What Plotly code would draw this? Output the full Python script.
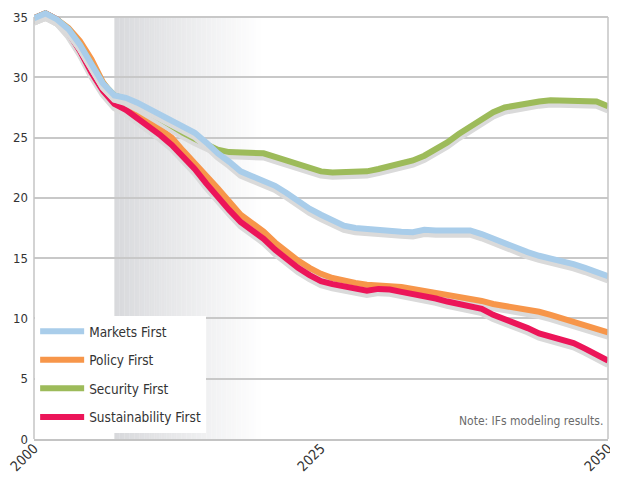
import plotly.graph_objects as go

years = list(range(2000, 2051))

markets_first = [34.9, 35.3, 34.8, 34.0, 32.7, 31.0, 29.5, 28.5, 28.3, 27.9,
                 27.4, 26.9, 26.4, 26.0, 25.4, 24.6, 23.7, 23.0, 22.2, 21.8,
                 21.4, 21.0, 20.4, 19.7, 19.1, 18.6, 18.1, 17.7, 17.5, 17.4,
                 17.3, 17.25, 17.2, 17.15, 17.35, 17.3, 17.3, 17.3, 17.3, 17.0,
                 16.6, 16.3, 15.9, 15.5, 15.2, 15.0, 14.7, 14.5, 14.2, 13.9,
                 13.5]

policy_first = [34.9, 35.3, 34.8, 34.1, 33.0, 31.5, 29.6, 28.3, 27.8, 27.0,
                26.3, 25.7, 25.0, 23.9, 22.9, 21.9, 20.8, 19.7, 18.6, 17.9,
                17.2, 16.3, 15.5, 14.8, 14.2, 13.7, 13.35, 13.1, 12.95, 12.8,
                12.75, 12.7, 12.6, 12.45, 12.3, 12.15, 12.0, 11.85, 11.65, 11.45,
                11.2, 11.05, 10.85, 10.7, 10.55, 10.3, 10.0, 9.65, 9.35, 9.1,
                8.85]

security_first = [34.9, 35.3, 34.8, 34.0, 32.7, 31.0, 29.5, 28.5, 28.2, 27.7,
                  27.1, 26.5, 25.9, 25.4, 24.9, 24.4, 24.0, 23.8, 23.8, 23.8,
                  23.7, 23.4, 23.1, 22.8, 22.5, 22.2, 22.1, 22.1, 22.1, 22.2,
                  22.4, 22.6, 22.8, 23.1, 23.5, 24.0, 24.6, 25.3, 25.9, 26.5,
                  27.1, 27.5, 27.7, 27.85, 28.0, 28.1, 28.1, 28.1, 28.05, 28.0,
                  27.6]

sustainability_first = [34.9, 35.3, 34.8, 33.7, 32.2, 30.4, 28.9, 27.8, 27.3, 26.6,
                        26.0, 25.2, 24.4, 23.4, 22.4, 21.2, 20.0, 19.0, 18.0, 17.3,
                        16.6, 15.7, 14.9, 14.2, 13.6, 13.1, 12.85, 12.7, 12.5, 12.3,
                        12.45, 12.4, 12.2, 12.05, 11.9, 11.65, 11.4, 11.2, 11.0, 10.8,
                        10.3, 9.95, 9.6, 9.2, 8.75, 8.45, 8.2, 7.95, 7.5, 7.0,
                        6.5]

x_tick_vals = [2000, 2025, 2050]
y_tick_vals = [0, 5, 10, 15, 20, 25, 30, 35]
note_text = "Note: IFs modeling results."

SHADE_START, SHADE_END = 2007, 2020
Y_MIN, Y_MAX, Y_TOP = 0, 35, 35.75
SHADOW_SHIFT = 0.33

FONT = "DejaVu Sans Condensed, Liberation Sans Narrow, sans-serif"

# (name, values, color, legend rank) in drawing order
series = [
    ("Policy First", policy_first, "#f7964a", 2),
    ("Sustainability First", sustainability_first, "#ec1559", 4),
    ("Security First", security_first, "#9dbb5a", 3),
    ("Markets First", markets_first, "#a9cdea", 1),
]

fig = go.Figure()
axis_layout = {}
ax_n = 2
for name, vals, color, rank in series:
    sh_ax = f"y{ax_n}"
    ln_ax = f"y{ax_n + 1}"
    axis_layout[f"yaxis{ax_n}"] = dict(range=[Y_MIN + SHADOW_SHIFT, Y_TOP + SHADOW_SHIFT],
                                       overlaying="y", visible=False)
    axis_layout[f"yaxis{ax_n + 1}"] = dict(range=[Y_MIN, Y_TOP],
                                           overlaying="y", visible=False)
    fig.add_trace(go.Scatter(x=years, y=vals, mode="lines", yaxis=sh_ax,
                             line=dict(color="#dadada", width=6.5),
                             showlegend=False, hoverinfo="skip"))
    fig.add_trace(go.Scatter(x=years, y=vals, mode="lines", name=name, yaxis=ln_ax,
                             line=dict(color=color, width=6),
                             legendrank=rank, legendgroup=name))
    ax_n += 2

shapes = []
n_strips = 60
step = (SHADE_END - SHADE_START) / n_strips
c0 = (216, 217, 220)
for i in range(n_strips):
    t = i / (n_strips - 1)
    r, g, b = [round(c + (255 - c) * t) for c in c0]
    shapes.append(dict(type="rect", xref="x", yref="y", layer="below",
                       x0=SHADE_START + i * step, x1=SHADE_START + (i + 1) * step + 0.02,
                       y0=Y_MIN, y1=Y_MAX, line=dict(width=0),
                       fillcolor=f"rgb({r},{g},{b})"))
for xp in (0, 1):
    shapes.append(dict(type="line", xref="paper", yref="y", x0=xp, x1=xp,
                       y0=Y_MIN, y1=Y_MAX, line=dict(color="#c4c4c4", width=1.5),
                       layer="above"))

fig.update_layout(
    width=610, height=475,
    margin=dict(l=26, r=10, t=0, b=44),
    paper_bgcolor="white", plot_bgcolor="white",
    font=dict(family=FONT, color="#333333", size=14),
    shapes=shapes,
    xaxis=dict(range=[2000, 2050], tickvals=x_tick_vals, tickangle=-45,
               showgrid=False, zeroline=False, showline=True,
               linecolor="#c4c4c4", linewidth=1.5, ticks="",
               ticklabelstandoff=-6, ticklabeloverflow="allow",
               tickfont=dict(size=14, color="#333333"), automargin=False),
    yaxis=dict(range=[Y_MIN, Y_TOP], tickvals=y_tick_vals, showgrid=True,
               gridcolor="#c8c8c8", gridwidth=1.5, zeroline=False,
               showline=False, ticks="", ticklabelstandoff=5,
               tickfont=dict(size=13, color="#333333"), automargin=False),
    legend=dict(x=0.002, y=0.014, xanchor="left", yanchor="bottom",
                bgcolor="white", borderwidth=0, traceorder="grouped",
                font=dict(size=13.5, color="#333333", family=FONT),
                tracegroupgap=8, itemwidth=44),
    annotations=[dict(text=note_text, xref="paper", yref="paper",
                      x=0.995, y=0.042, xanchor="right", yanchor="middle",
                      showarrow=False,
                      font=dict(size=12, color="#6b6b6b", family=FONT))],
    showlegend=True,
    **axis_layout,
)

fig.write_html("out.html")
